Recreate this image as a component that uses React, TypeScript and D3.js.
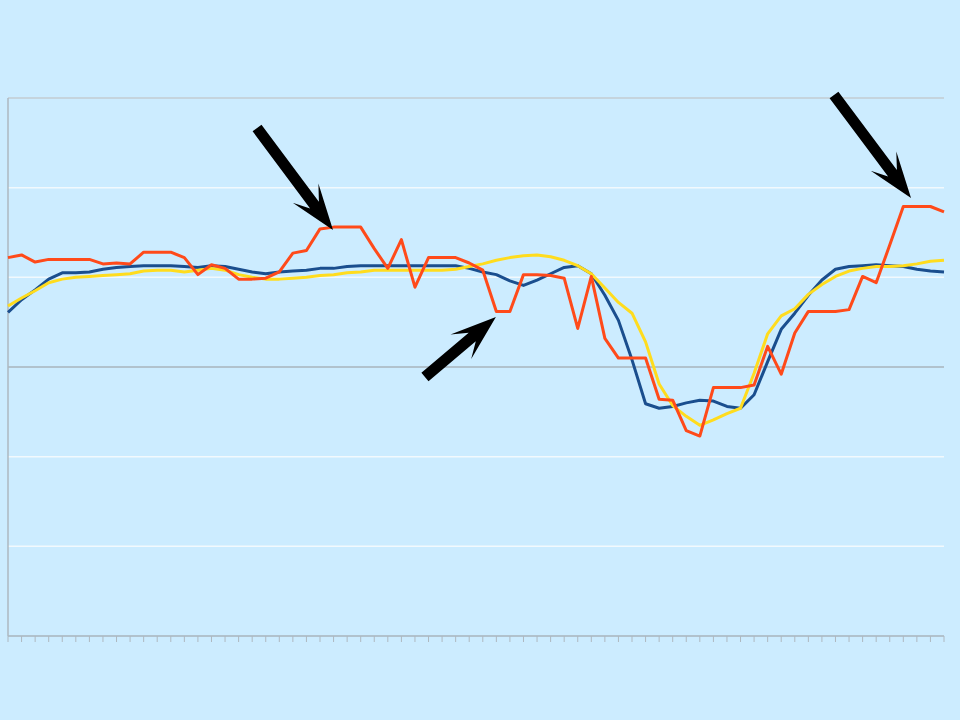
import React from "react";
import * as d3 from "d3";

const categories: number[] = Array.from({ length: 70 }, (_, i) => i + 1);

const orangeSeries: number[] = [
  42.2, 42.5, 41.7, 42.0, 42.0, 42.0, 42.0, 41.5, 41.6, 41.5,
  42.8, 42.8, 42.8, 42.2, 40.3, 41.4, 41.0, 39.8, 39.8, 39.9,
  40.6, 42.7, 43.0, 45.4, 45.6, 45.6, 45.6, 43.2, 41.0, 44.2,
  38.9, 42.2, 42.2, 42.2, 41.6, 40.8, 36.2, 36.2, 40.3, 40.3,
  40.2, 39.9, 34.3, 40.1, 33.2, 31.0, 31.0, 31.0, 26.4, 26.3,
  22.9, 22.3, 27.7, 27.7, 27.7, 28.0, 32.3, 29.2, 33.8, 36.2,
  36.2, 36.2, 36.4, 40.1, 39.4, 43.6, 47.9, 47.9, 47.9, 47.3,
];

const blueSeries: number[] = [
  36.1, 37.5, 38.6, 39.8, 40.5, 40.5, 40.6, 40.9, 41.1, 41.2,
  41.3, 41.3, 41.3, 41.2, 41.1, 41.3, 41.2, 40.9, 40.6, 40.4,
  40.6, 40.7, 40.8, 41.0, 41.0, 41.2, 41.3, 41.3, 41.3, 41.3,
  41.3, 41.3, 41.3, 41.3, 41.0, 40.6, 40.3, 39.6, 39.1, 39.7,
  40.4, 41.1, 41.3, 40.4, 38.0, 35.2, 30.8, 25.9, 25.4, 25.6,
  26.0, 26.3, 26.2, 25.6, 25.4, 26.9, 30.6, 34.2, 36.0, 38.0,
  39.7, 40.9, 41.2, 41.3, 41.4, 41.3, 41.2, 40.9, 40.7, 40.6,
];

const yellowSeries: number[] = [
  36.8, 37.7, 38.5, 39.4, 39.8, 40.0, 40.1, 40.2, 40.3, 40.4,
  40.7, 40.8, 40.8, 40.6, 40.8, 41.0, 40.8, 40.3, 40.0, 39.8,
  39.8, 39.9, 40.0, 40.2, 40.3, 40.5, 40.6, 40.8, 40.8, 40.8,
  40.8, 40.8, 40.8, 40.9, 41.2, 41.5, 41.9, 42.2, 42.4, 42.5,
  42.3, 41.9, 41.3, 40.4, 38.8, 37.2, 36.0, 32.8, 28.1, 25.7,
  24.5, 23.5, 24.1, 24.8, 25.4, 29.3, 33.7, 35.7, 36.5, 38.1,
  39.2, 40.1, 40.7, 41.0, 41.2, 41.2, 41.3, 41.5, 41.8, 41.9,
];

const yTicks: number[] = [0, 10, 20, 30, 40, 50, 60];

// annotation arrows in data units (category index, value): tail -> tip
const arrowTailX: number[] = [18.36, 30.74, 60.89];
const arrowTailY: number[] = [56.65, 28.88, 60.33];
const arrowTipX: number[] = [23.96, 35.97, 66.57];
const arrowTipY: number[] = [45.28, 35.58, 48.85];

const W = 960;
const H = 720;
const plot = { left: 8, right: 944, top: 98, bottom: 636 };

const BG = "#CCECFF";
const ORANGE = "#FF4A1A";
const BLUE = "#1A4E8E";
const YELLOW = "#FFDC1E";

const gridColor = (v: number) => {
  if (v === 60) return "#C3CCD2";
  if (v === 30) return "#A9B4BC";
  if (v === 0) return "#A9B4BC";
  return "#F2F9FD";
};

function arrowPath(x1: number, y1: number, x2: number, y2: number): string {
  const dx = x2 - x1;
  const dy = y2 - y1;
  const len = Math.sqrt(dx * dx + dy * dy);
  const ux = dx / len;
  const uy = dy / len;
  const px = -uy;
  const py = ux;
  const shaftHalf = 5.5;
  const headLen = 46;
  const headHalf = 16;
  const notch = 31;
  const pt = (a: number, b: number) => [x1 + ux * a + px * b, y1 + uy * a + py * b];
  const pts = [
    pt(0, -shaftHalf),
    pt(len - notch, -shaftHalf),
    pt(len - headLen, -headHalf),
    pt(len, 0),
    pt(len - headLen, headHalf),
    pt(len - notch, shaftHalf),
    pt(0, shaftHalf),
  ];
  return "M" + pts.map((p) => p[0].toFixed(1) + "," + p[1].toFixed(1)).join("L") + "Z";
}

export default function App() {
  const x = d3
    .scaleLinear()
    .domain([0, categories.length - 1])
    .range([plot.left, plot.right]);
  const y = d3.scaleLinear().domain([0, 60]).range([plot.bottom, plot.top]);

  const line = d3
    .line<number>()
    .x((_, i) => x(i))
    .y((d) => y(d));

  return (
    <svg
      width={W}
      height={H}
      style={{ position: "absolute", left: 0, top: 0, display: "block" }}
      xmlns="http://www.w3.org/2000/svg"
    >
      <rect x={0} y={0} width={W} height={H} fill={BG} />
      {yTicks.map((t) => (
        <line
          key={"g" + t}
          x1={plot.left}
          x2={plot.right}
          y1={y(t)}
          y2={y(t)}
          stroke={gridColor(t)}
          strokeWidth={1.5}
        />
      ))}
      <line
        x1={plot.left}
        x2={plot.left}
        y1={plot.top}
        y2={plot.bottom}
        stroke="#AEB8C0"
        strokeWidth={1.5}
      />
      {categories.map((c, i) => (
        <line
          key={"t" + c}
          x1={x(i)}
          x2={x(i)}
          y1={plot.bottom}
          y2={plot.bottom + 6}
          stroke="#AEB8C0"
          strokeWidth={1}
        />
      ))}
      <path d={line(blueSeries) || ""} fill="none" stroke={BLUE} strokeWidth={3} strokeLinejoin="round" />
      <path d={line(yellowSeries) || ""} fill="none" stroke={YELLOW} strokeWidth={3} strokeLinejoin="round" />
      <path d={line(orangeSeries) || ""} fill="none" stroke={ORANGE} strokeWidth={3} strokeLinejoin="round" />
      {arrowTailX.map((_, i) => (
        <path
          key={"a" + i}
          d={arrowPath(x(arrowTailX[i]), y(arrowTailY[i]), x(arrowTipX[i]), y(arrowTipY[i]))}
          fill="#000"
        />
      ))}
    </svg>
  );
}
